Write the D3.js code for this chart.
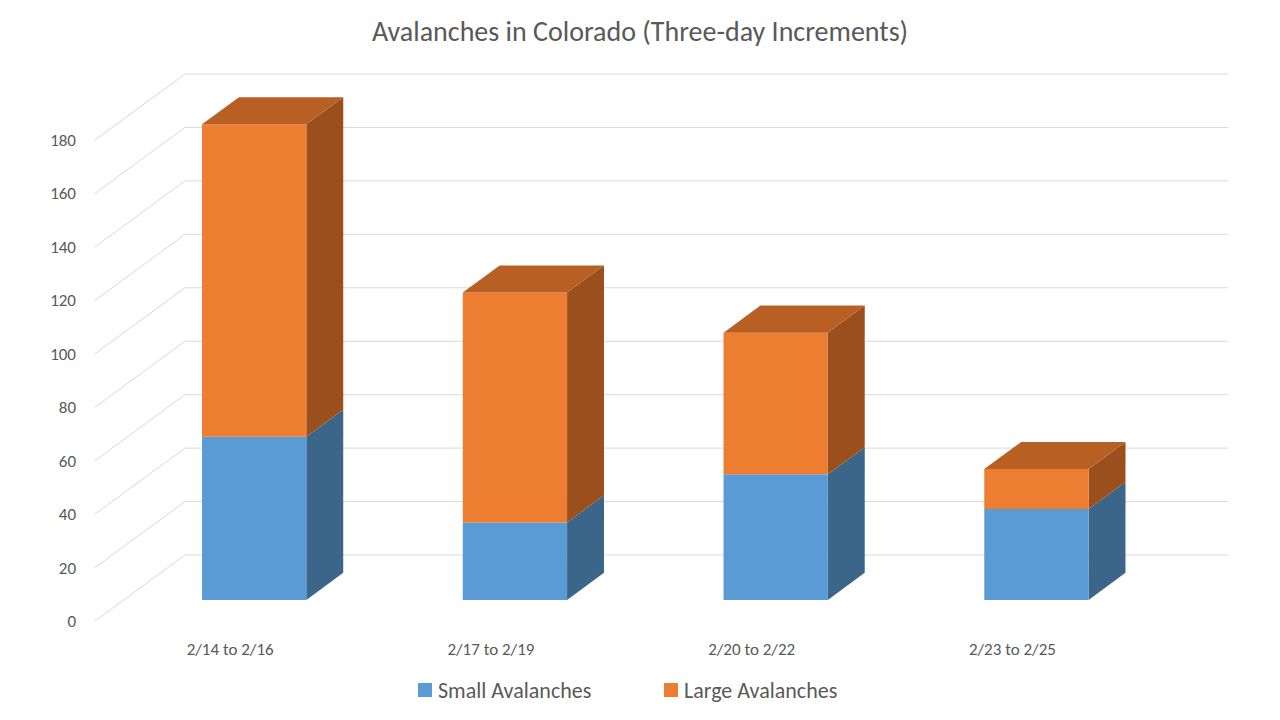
<!DOCTYPE html>
<html><head><meta charset="utf-8">
<script src="https://cdn.jsdelivr.net/npm/d3@7"></script>
<style>body{margin:0;background:#fff}svg{font-family:Calibri,Carlito,"Open Sans",sans-serif}</style>
</head><body><div id="viz"></div>
<script>
const categories = ["2/14 to 2/16", "2/17 to 2/19", "2/20 to 2/22", "2/23 to 2/25"];
const smallAvalanches = [61, 29, 47, 34];
const largeAvalanches = [117, 86, 53, 15];
const seriesNames = ["Small Avalanches", "Large Avalanches"];
const yTicks = [0, 20, 40, 60, 80, 100, 120, 140, 160, 180];

const svg = d3.select("#viz").append("svg").attr("width", 1280).attr("height", 720);

// depth projection: d=0 front, d=1 back wall
const depthX = 90, depthY = -66;
const x = d3.scaleBand().domain(categories).range([95, 1138]).paddingInner(0.6).paddingOuter(0.3);
const y = d3.scaleLinear().domain([0, 180]).range([621, 140]);
const P = (px, v, d) => [px + depthX * d, y(v) + depthY * d];
const poly = pts => "M" + pts.map(p => p.join(",")).join("L") + "Z";

// walls gridlines
yTicks.forEach(t => {
  const a = P(95, t, 0), b = P(95, t, 1), c = P(1138, t, 1);
  svg.append("path").attr("d", `M${a}L${b}L${c}`).attr("fill", "none").attr("stroke", "#d9d9d9").attr("stroke-width", 1);
  svg.append("text").attr("x", 76).attr("y", y(t) + 6).attr("text-anchor", "end")
    .attr("font-size", 17).attr("fill", "#595959").text(t);
});

const colors = [
  { front: "#5B9BD5", side: "#3B6589", top: "#4A80B0" },
  { front: "#ED7D31", side: "#9B4F1D", top: "#B85F23" }
];
const d0 = 0.32, d1 = 0.73;

categories.forEach((c, i) => {
  const segs = [[0, smallAvalanches[i]], [smallAvalanches[i], smallAvalanches[i] + largeAvalanches[i]]];
  const x0 = x(c), x1 = x(c) + x.bandwidth();
  segs.forEach(([lo, hi], s) => {
    const col = colors[s];
    svg.append("path").attr("d", poly([P(x1, lo, d0), P(x1, lo, d1), P(x1, hi, d1), P(x1, hi, d0)])).attr("fill", col.side);
    svg.append("path").attr("d", poly([P(x0, lo, d0), P(x1, lo, d0), P(x1, hi, d0), P(x0, hi, d0)])).attr("fill", col.front);
    if (s === segs.length - 1)
      svg.append("path").attr("d", poly([P(x0, hi, d0), P(x1, hi, d0), P(x1, hi, d1), P(x0, hi, d1)])).attr("fill", col.top);
  });
  svg.append("text").attr("x", (x0 + x1) / 2 + depthX * d0 - 24).attr("y", 655).attr("text-anchor", "middle")
    .attr("font-size", 17).attr("fill", "#595959").text(c);
});

svg.append("text").attr("x", 640).attr("y", 41).attr("text-anchor", "middle")
  .attr("font-size", 28).attr("fill", "#595959").text("Avalanches in Colorado (Three-day Increments)");

const legendX = [418, 664];
seriesNames.forEach((n, i) => {
  svg.append("rect").attr("x", legendX[i]).attr("y", 683).attr("width", 14).attr("height", 14).attr("fill", colors[i].front);
  svg.append("text").attr("x", legendX[i] + 20).attr("y", 698).attr("font-size", 22).attr("fill", "#595959").text(n);
});
</script></body></html>
